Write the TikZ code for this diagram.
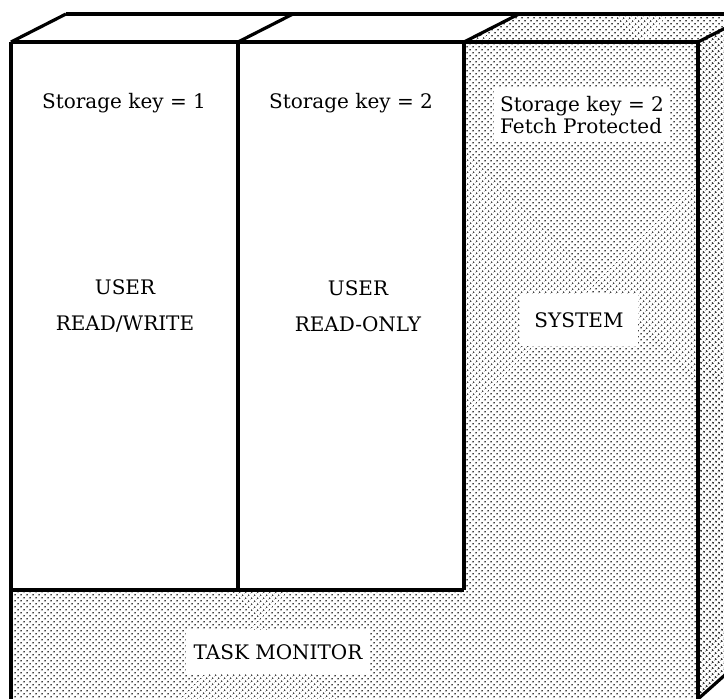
\documentclass[tikz,border=0pt]{standalone}
\usepackage{fontspec}
\setmainfont{DejaVu Serif}
\usetikzlibrary{patterns.meta}
\begin{document}
\begin{tikzpicture}[x=1pt,y=-1pt,
  edge/.style={line width=3.2pt, line join=miter},
  halftone/.style={pattern={Dots[distance=4pt, radius=1.05pt, angle=45]}, pattern color=black!75},
  sidetone/.style={pattern={Dots[distance=4pt, radius=1.25pt, angle=45]}, pattern color=black!80},
  caption/.style={font=\fontsize{20}{22}\selectfont, align=center, inner sep=4pt},
  twoline/.style={font=\fontsize{20}{36}\selectfont, align=center, inner sep=4pt},
  cleared/.style={fill=white}]
\useasboundingbox (0,0) rectangle (724,699);
\begin{scope}
\clip (0,0) rectangle (724,699);

% shaded front: SYSTEM column and TASK MONITOR base
\fill[halftone] (464,42) -- (698,42) -- (698,720) -- (11,720) -- (11,590) -- (464,590) -- cycle;
% shaded top face above SYSTEM
\fill[halftone] (464,42) -- (519,14) -- (753,14) -- (698,42) -- cycle;
% shaded right side face
\fill[sidetone] (698,42) -- (753,14) -- (753,650) -- (698,699) -- cycle;

% outline of the block
\draw[edge] (11,42) -- (698,42);
\draw[edge] (66,14) -- (753,14);
\draw[edge] (11,42) -- (66,14);
\draw[edge] (238,42) -- (293,14);
\draw[edge] (464,42) -- (519,14);
\draw[edge] (698,42) -- (753,14);
\draw[edge] (11,42) -- (11,720);
\draw[edge] (238,42) -- (238,590);
\draw[edge] (464,42) -- (464,590);
\draw[edge] (11,590) -- (464,590);
\draw[edge] (698,42) -- (698,720);
\draw[edge] (698,699) -- (753,650);
\end{scope}

% labels
\node[caption] (key1) at (124,103) {Storage key = 1};
\node[caption] (key2) at (351,103) {Storage key = 2};
\node[caption, cleared, align=left, inner xsep=6pt, inner ysep=8pt] (key3) at (582,115)
  {Storage key = 2\\Fetch Protected};
\node[twoline] (rw) at (125,306) {USER\\READ/WRITE};
\node[twoline] (ro) at (358,306) {USER\\READ-ONLY};
\node[caption, cleared, inner xsep=14pt, inner ysep=18pt] (sys) at (579,320) {SYSTEM};
\node[caption, cleared, inner xsep=8pt, inner ysep=14pt] (tm) at (278,652) {TASK MONITOR};
\end{tikzpicture}
\end{document}
